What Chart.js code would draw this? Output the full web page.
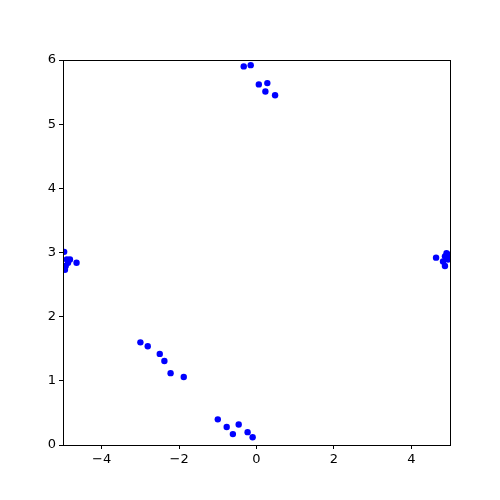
<!DOCTYPE html>
<html>
<head>
<meta charset="utf-8">
<script src="https://cdn.jsdelivr.net/npm/chart.js@4/dist/chart.umd.min.js"></script>
<style>
  html, body { margin: 0; padding: 0; background: #fff; }
  #wrap { width: 500px; height: 500px; }
</style>
</head>
<body>
<div id="wrap"><canvas id="chart" width="500" height="500"></canvas></div>
<script>
// point coordinates
const xs = [
  -0.33, -0.15, 0.06, 0.28, 0.23, 0.48,
  -3.0, -2.81, -2.5, -2.38, -2.22, -1.88,
  -1.0, -0.77, -0.61, -0.46, -0.23, -0.10,
  -4.97, -4.9, -4.82, -4.65, -4.87, -4.93, -4.95,
  4.64, 4.87, 4.91, 4.82, 4.87, 4.95, 4.95
];
const ys = [
  5.90, 5.92, 5.62, 5.64, 5.51, 5.45,
  1.60, 1.54, 1.42, 1.31, 1.12, 1.06,
  0.40, 0.28, 0.17, 0.32, 0.20, 0.12,
  3.01, 2.89, 2.89, 2.84, 2.84, 2.79, 2.73,
  2.92, 2.94, 2.99, 2.86, 2.79, 2.89, 2.97
];
const xTicks = [-4, -2, 0, 2, 4];
const yTicks = [0, 1, 2, 3, 4, 5, 6];

const points = xs.map((x, i) => ({ x: x, y: ys[i] }));

// black frame round the plot area, like the reference
const frame = {
  id: 'frame',
  afterDraw(chart) {
    const a = chart.chartArea, ctx = chart.ctx;
    ctx.save();
    ctx.strokeStyle = '#000';
    ctx.lineWidth = 1;
    ctx.strokeRect(Math.round(a.left) + 0.5, Math.round(a.top) + 0.5,
      Math.round(a.right - a.left), Math.round(a.bottom - a.top));
    ctx.restore();
  }
};

const tickFont = { family: 'DejaVu Sans', size: 13 };

new Chart(document.getElementById('chart'), {
  type: 'scatter',
  data: {
    datasets: [{
      data: points,
      backgroundColor: '#0000ff',
      borderColor: '#0000ff',
      pointRadius: 3.2,
      borderWidth: 0,
      clip: 0
    }]
  },
  options: {
    responsive: false,
    animation: false,
    layout: { padding: { top: 60, right: 50, left: 0, bottom: 0 } },
    plugins: { legend: { display: false }, tooltip: { enabled: false } },
    scales: {
      x: {
        type: 'linear',
        min: -5, max: 5,
        afterBuildTicks: s => { s.ticks = xTicks.map(v => ({ value: v })); },
        afterFit: s => { s.height = 55; },
        grid: { display: true, drawOnChartArea: false, drawTicks: true, tickLength: 4, color: '#000' },
        border: { display: false },
        ticks: {
          color: '#000', font: tickFont, padding: 3, maxRotation: 0,
          callback: v => String(v).replace('-', '\u2212')
        }
      },
      y: {
        type: 'linear',
        min: 0, max: 6,
        afterBuildTicks: s => { s.ticks = yTicks.map(v => ({ value: v })); },
        afterFit: s => { s.width = 63; },
        grid: { display: true, drawOnChartArea: false, drawTicks: true, tickLength: 4, color: '#000' },
        border: { display: false },
        ticks: { color: '#000', font: tickFont, padding: 3 }
      }
    }
  },
  plugins: [frame]
});
</script>
</body>
</html>
